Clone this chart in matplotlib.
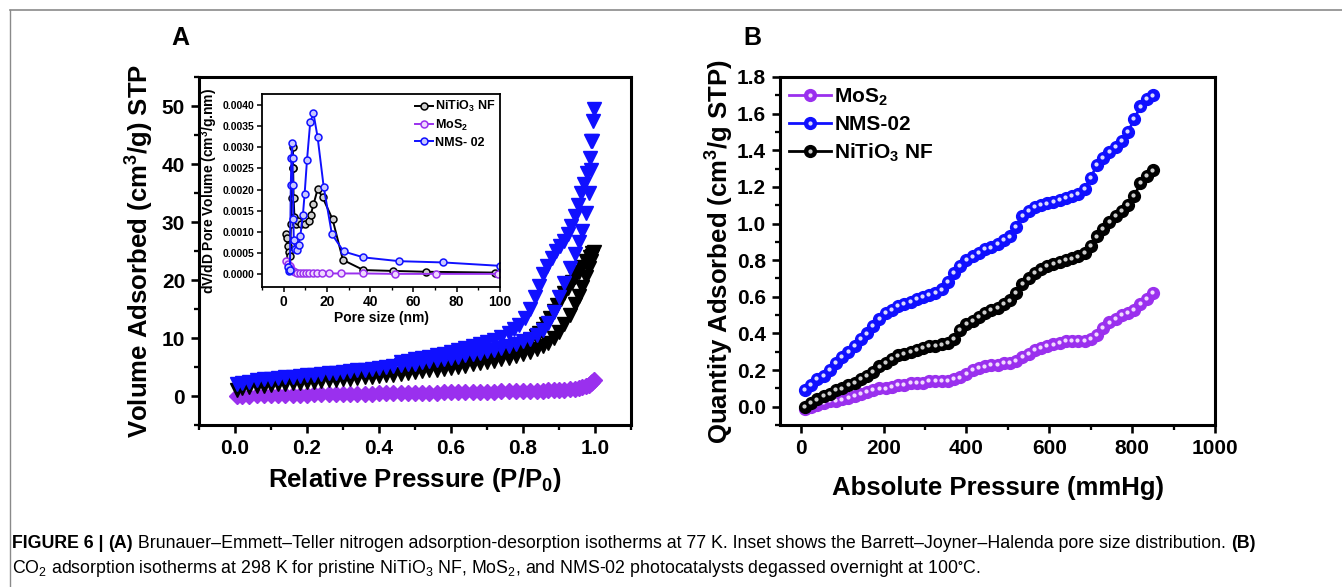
import matplotlib
matplotlib.use("Agg")
import matplotlib.pyplot as plt
import matplotlib.transforms as mtransforms
from matplotlib.lines import Line2D
from matplotlib.ticker import MultipleLocator

plt.rcParams['font.family'] = ['Liberation Sans', 'DejaVu Sans']
plt.rcParams['font.weight'] = 'bold'
plt.rcParams['mathtext.fontset'] = 'custom'
plt.rcParams['mathtext.rm'] = 'Liberation Sans'
plt.rcParams['mathtext.bf'] = 'Liberation Sans:bold'
plt.rcParams['mathtext.it'] = 'Liberation Sans:italic'
plt.rcParams['mathtext.default'] = 'regular'

# ---------------- Panel A: N2 isotherms ----------------
p_ads = [0.005, 0.02, 0.04, 0.06, 0.08, 0.10, 0.12, 0.14, 0.16, 0.18, 0.20, 0.22, 0.24, 0.26, 0.28,
         0.30, 0.32, 0.34, 0.36, 0.38, 0.40, 0.42, 0.44, 0.46, 0.48, 0.50, 0.52, 0.54, 0.56, 0.58,
         0.60, 0.62, 0.64, 0.66, 0.68, 0.70, 0.72, 0.74, 0.76, 0.78, 0.80, 0.82, 0.84, 0.855, 0.87,
         0.885, 0.90, 0.915, 0.93, 0.945, 0.955, 0.965, 0.975, 0.982, 0.988, 0.993, 0.997]
nms_ads = [2.0, 2.3, 2.5, 2.7, 2.85, 3.0, 3.1, 3.25, 3.35, 3.5, 3.6, 3.7, 3.8, 3.95, 4.05,
           4.2, 4.3, 4.45, 4.55, 4.7, 4.85, 5.0, 5.15, 5.3, 5.45, 5.6, 5.8, 5.95, 6.15, 6.35,
           6.55, 6.75, 7.0, 7.2, 7.45, 7.7, 8.0, 8.3, 8.6, 9.0, 9.4, 9.9, 10.6, 11.4, 12.6,
           14.5, 17.0, 19.5, 22.0, 24.5, 26.5, 28.5, 31.5, 35.0, 39.0, 44.0, 49.5]
nti_ads = [1.0, 1.3, 1.5, 1.65, 1.8, 1.9, 2.0, 2.1, 2.2, 2.3, 2.4, 2.5, 2.6, 2.7, 2.8,
           2.9, 3.0, 3.1, 3.2, 3.3, 3.45, 3.55, 3.7, 3.8, 3.95, 4.1, 4.25, 4.4, 4.55, 4.7,
           4.9, 5.05, 5.25, 5.45, 5.65, 5.85, 6.1, 6.35, 6.6, 6.9, 7.2, 7.6, 8.1, 8.6, 9.2,
           10.0, 11.0, 12.4, 14.0, 15.8, 17.2, 18.8, 20.5, 22.0, 23.2, 24.2, 24.8]
mos_ads = [0.0, 0.05, 0.08, 0.1, 0.12, 0.14, 0.16, 0.18, 0.2, 0.22, 0.24, 0.26, 0.28, 0.3, 0.32,
           0.34, 0.36, 0.38, 0.4, 0.42, 0.44, 0.46, 0.48, 0.5, 0.52, 0.54, 0.56, 0.58, 0.6, 0.62,
           0.64, 0.66, 0.68, 0.7, 0.72, 0.74, 0.76, 0.78, 0.8, 0.82, 0.85, 0.88, 0.91, 0.94, 0.97,
           1.0, 1.05, 1.1, 1.15, 1.25, 1.35, 1.5, 1.7, 1.95, 2.2, 2.5, 2.8]

p_des_nms = [0.995, 0.99, 0.985, 0.978, 0.97, 0.962, 0.953, 0.944, 0.934, 0.924, 0.913, 0.902,
             0.891, 0.88, 0.868, 0.856, 0.844, 0.832, 0.82, 0.805, 0.79, 0.775, 0.76, 0.74,
             0.72, 0.70, 0.68, 0.66, 0.64, 0.62, 0.60, 0.58, 0.56, 0.54, 0.52, 0.50, 0.48, 0.46]
nms_des = [47.5, 44.0, 41.0, 38.5, 36.5, 35.0, 33.0, 31.0, 29.3, 28.0, 26.8, 25.9,
           25.0, 23.8, 22.5, 21.0, 19.0, 17.0, 15.0, 13.5, 12.3, 11.5, 10.8, 10.2,
           9.7, 9.3, 8.9, 8.55, 8.2, 7.9, 7.6, 7.3, 7.05, 6.8, 6.55, 6.3, 6.05, 5.8]
p_des_nti = [0.993, 0.985, 0.975, 0.965, 0.955, 0.945, 0.935, 0.925, 0.915, 0.905, 0.895, 0.885,
             0.875, 0.865, 0.855, 0.845, 0.835, 0.82, 0.805, 0.79, 0.775, 0.76, 0.74, 0.72,
             0.70, 0.68, 0.66, 0.64, 0.62, 0.60, 0.58, 0.56]
nti_des = [24.6, 24.0, 23.2, 22.3, 21.4, 20.5, 19.6, 18.7, 17.8, 16.8, 15.7, 14.6,
           13.5, 12.5, 11.6, 10.9, 10.3, 9.6, 9.1, 8.7, 8.3, 8.0, 7.6, 7.25,
           6.9, 6.6, 6.3, 6.0, 5.75, 5.5, 5.25, 5.0]

# ---------------- Inset: BJH pore size distribution ----------------
d_nti = [1.2, 1.5, 1.9, 2.4, 2.9, 3.4, 3.8, 4.1, 4.2, 4.4, 4.6, 5.0, 5.6, 6.5, 8.0, 10.0,
         11.5, 12.5, 13.8, 15.7, 18.0, 22.6, 27.4, 36.9, 50.5, 66.0, 97.7]
v_nti = [0.00095, 0.00085, 0.00068, 0.00052, 0.00044, 0.0012, 0.0018, 0.0025, 0.0030, 0.0025,
         0.0018, 0.00135, 0.0012, 0.00125, 0.0012, 0.0012, 0.00125, 0.0014, 0.00165, 0.00201,
         0.00182, 0.0013, 0.00034, 0.0001, 0.00008, 0.00006, 0.00004]
d_mos = [1.2, 2.0, 2.8, 3.5, 4.3, 5.2, 6.3, 7.5, 8.8, 10.2, 11.8, 13.5, 15.5, 17.8, 21.0,
         26.5, 36.5, 51.5, 70.5, 99.0]
v_mos = [0.00031, 0.00025, 0.0002, 0.00012, 0.00008, 0.00005, 0.00004, 0.00003, 0.00003,
         0.00003, 0.00003, 0.00003, 0.00002, 0.00002, 0.00002, 0.00002, 0.00002, 0.00001,
         0.00001, 0.00001]
d_nms = [1.8, 2.3, 2.9, 3.3, 3.6, 3.9, 4.1, 4.3, 4.5, 4.7, 5.3, 6.0, 6.9, 7.7, 8.9, 9.7,
         10.8, 12.3, 13.8, 15.7, 18.5, 22.3, 27.7, 36.9, 53.4, 73.8, 100.0]
v_nms = [0.00018, 0.00008, 0.0001, 0.0021, 0.00275, 0.0031, 0.00275, 0.0021, 0.0013, 0.0008,
         0.0006, 0.00058, 0.0007, 0.0009, 0.0014, 0.0019, 0.0027, 0.0036, 0.0038, 0.00324,
         0.00207, 0.00095, 0.00054, 0.0004, 0.00031, 0.00028, 0.0002]

# ---------------- Panel B: CO2 isotherms ----------------
pressure = [10, 25, 40, 55, 70, 85, 100, 115, 130, 145, 160, 175, 190, 205, 220, 235, 250, 265,
            280, 295, 310, 325, 340, 355, 370, 385, 400, 415, 430, 445, 460, 475, 490, 505, 520,
            535, 550, 565, 580, 595, 610, 625, 640, 655, 670, 685, 700, 715, 730, 745, 760, 775,
            790, 805, 820, 835, 850]
co2_nms = [0.09, 0.12, 0.15, 0.17, 0.20, 0.24, 0.27, 0.30, 0.33, 0.37, 0.40, 0.44, 0.48, 0.51,
           0.53, 0.55, 0.56, 0.57, 0.59, 0.60, 0.61, 0.62, 0.64, 0.68, 0.73, 0.77, 0.80, 0.82,
           0.84, 0.86, 0.87, 0.89, 0.91, 0.93, 0.98, 1.04, 1.07, 1.09, 1.10, 1.11, 1.12, 1.13,
           1.14, 1.15, 1.16, 1.19, 1.25, 1.32, 1.36, 1.39, 1.42, 1.45, 1.50, 1.57, 1.64, 1.68, 1.70]
co2_nti = [0.00, 0.02, 0.04, 0.06, 0.07, 0.09, 0.10, 0.12, 0.13, 0.15, 0.17, 0.19, 0.22, 0.24,
           0.26, 0.28, 0.29, 0.30, 0.31, 0.32, 0.33, 0.33, 0.34, 0.35, 0.37, 0.42, 0.45, 0.47,
           0.49, 0.51, 0.53, 0.54, 0.56, 0.58, 0.62, 0.67, 0.70, 0.73, 0.75, 0.77, 0.78, 0.79,
           0.80, 0.81, 0.82, 0.84, 0.88, 0.93, 0.97, 1.01, 1.04, 1.07, 1.10, 1.15, 1.22, 1.26, 1.29]
co2_mos = [-0.01, 0.00, 0.01, 0.02, 0.03, 0.03, 0.04, 0.05, 0.06, 0.07, 0.08, 0.09, 0.10, 0.10,
           0.11, 0.12, 0.12, 0.13, 0.13, 0.13, 0.14, 0.14, 0.14, 0.14, 0.15, 0.16, 0.18, 0.20,
           0.21, 0.22, 0.23, 0.23, 0.24, 0.24, 0.25, 0.27, 0.29, 0.31, 0.32, 0.33, 0.34, 0.35,
           0.36, 0.36, 0.36, 0.36, 0.37, 0.39, 0.43, 0.46, 0.48, 0.50, 0.51, 0.53, 0.56, 0.59, 0.62]

BLUE = '#1010ff'
BLACK = '#000000'
PURPLE = '#9a30ee'

W, H = 1342, 587
fig = plt.figure(figsize=(W / 100, H / 100), dpi=100)

# frame lines of the figure page
fig.add_artist(Line2D([10 / W, 1.0], [1 - 10 / H, 1 - 10 / H], transform=fig.transFigure,
                      color='#8a8a8a', lw=1.2))
fig.add_artist(Line2D([10 / W, 10 / W], [0, 1 - 10 / H], transform=fig.transFigure,
                      color='#8a8a8a', lw=1.0))


def style_axes(ax, lw=2.2, major_len=6, minor_len=3.5, xsize=15, ysize=15, pad=4):
    for s in ax.spines.values():
        s.set_linewidth(lw)
    ax.tick_params(which='major', direction='out', length=major_len, width=lw * 0.85, pad=pad)
    ax.tick_params(which='minor', direction='out', length=minor_len, width=lw * 0.75)
    ax.tick_params(axis='x', labelsize=xsize)
    ax.tick_params(axis='y', labelsize=ysize)


# ---------- Panel A ----------
axA = fig.add_axes([199 / W, 1 - 425 / H, 432 / W, 348 / H])
axA.plot(p_ads, mos_ads, ls='none', marker='D', ms=8, color=PURPLE, mec=PURPLE)
axA.plot(p_ads, nti_ads, ls='none', marker='v', ms=10.5, color=BLACK)
axA.plot(p_des_nti, nti_des, ls='none', marker='v', ms=10.5, color=BLACK)
axA.plot(p_ads, nms_ads, ls='none', marker='v', ms=10.5, color=BLUE)
axA.plot(p_des_nms, nms_des, ls='none', marker='v', ms=10.5, color=BLUE)
axA.set_xlim(-0.1, 1.1)
axA.set_ylim(-5, 55)
axA.set_xticks([0.0, 0.2, 0.4, 0.6, 0.8, 1.0])
axA.set_xticklabels(['0.0', '0.2', '0.4', '0.6', '0.8', '1.0'])
axA.set_yticks([0, 10, 20, 30, 40, 50])
axA.xaxis.set_minor_locator(MultipleLocator(0.1))
axA.yaxis.set_minor_locator(MultipleLocator(5))
style_axes(axA)
axA.set_xlabel(r'Relative Pressure (P/P$_{\mathbf{0}}$)', fontsize=18.5, fontweight='bold',
               labelpad=6)
axA.set_ylabel(r'Volume Adsorbed (cm$^{\mathbf{3}}$/g) STP', fontsize=18.5, fontweight='bold',
               labelpad=4)
fig.text(180 / W, 1 - 38 / H, 'A', fontsize=18, fontweight='bold', ha='center', va='center')

# ---------- Inset ----------
axI = fig.add_axes([262 / W, 1 - 287 / H, 238 / W, 193 / H])
axI.plot(d_nti, v_nti, color=BLACK, lw=1.4, marker='o', ms=5, mfc='#cfcfcf', mec=BLACK,
         mew=1.1, label=r'NiTiO$_{\mathbf{3}}$ NF')
axI.plot(d_mos, v_mos, color=PURPLE, lw=1.4, marker='o', ms=5, mfc='#efd8ff', mec=PURPLE,
         mew=1.1, label=r'MoS$_{\mathbf{2}}$')
axI.plot(d_nms, v_nms, color=BLUE, lw=1.4, marker='o', ms=5, mfc='#c8c8ff', mec=BLUE,
         mew=1.1, label='NMS- 02')
axI.set_xlim(-10, 100)
axI.set_ylim(-0.0003, 0.00426)
axI.set_xticks([0, 20, 40, 60, 80, 100])
axI.set_yticks([0.0, 0.0005, 0.0010, 0.0015, 0.0020, 0.0025, 0.0030, 0.0035, 0.0040])
axI.set_yticklabels(['0.0000', '0.0005', '0.0010', '0.0015', '0.0020', '0.0025', '0.0030',
                     '0.0035', '0.0040'])
axI.xaxis.set_minor_locator(MultipleLocator(10))
style_axes(axI, lw=1.3, major_len=3.5, minor_len=2, xsize=10, ysize=7.5, pad=2)
axI.set_xlabel('Pore size (nm)', fontsize=10, fontweight='bold', labelpad=2)
axI.set_ylabel(r'dV/dD Pore Volume (cm$^{\mathbf{3}}$/g.nm)', fontsize=10,
               fontweight='bold', labelpad=2)
axI.legend(loc='upper right', frameon=False, handlelength=1.4, handletextpad=0.15,
           labelspacing=0.3, borderaxespad=0.2, borderpad=0.2,
           prop={'weight': 'bold', 'size': 9})

# ---------- Panel B ----------
axB = fig.add_axes([780 / W, 1 - 425 / H, 435 / W, 348 / H])
hl = mtransforms.offset_copy(axB.transData, fig=fig, x=-0.8, y=0.8, units='dots')
handles = []
for y, c, hc, lab in [(co2_mos, PURPLE, '#f3dcff', r'MoS$_{\mathbf{2}}$'),
                      (co2_nms, BLUE, '#dcdcff', 'NMS-02'),
                      (co2_nti, BLACK, '#d0d0d0', r'NiTiO$_{\mathbf{3}}$ NF')]:
    l1, = axB.plot(pressure, y, color=c, lw=2.0, marker='o', ms=8.5, mec=c, mfc=c)
    l2, = axB.plot(pressure, y, ls='none', marker='o', ms=2.0, color=hc, mec=hc,
                   transform=hl)
    handles.append(((l1, l2), lab))
axB.set_xlim(-50, 1000)
axB.set_ylim(-0.1, 1.8)
axB.set_xticks([0, 200, 400, 600, 800, 1000])
axB.set_yticks([0.0, 0.2, 0.4, 0.6, 0.8, 1.0, 1.2, 1.4, 1.6, 1.8])
axB.set_yticklabels(['0.0', '0.2', '0.4', '0.6', '0.8', '1.0', '1.2', '1.4', '1.6', '1.8'])
axB.xaxis.set_minor_locator(MultipleLocator(100))
axB.yaxis.set_minor_locator(MultipleLocator(0.1))
style_axes(axB)
axB.set_xlabel('Absolute Pressure (mmHg)', fontsize=18.5, fontweight='bold', labelpad=13)
axB.set_ylabel(r'Quantity Adsorbed (cm$^{\mathbf{3}}$/g STP)', fontsize=18.5,
               fontweight='bold', labelpad=1)
axB.legend([h for h, _ in handles], [l for _, l in handles], loc='upper left', frameon=False,
           handlelength=2.0, handletextpad=0.15, labelspacing=0.35, borderaxespad=0.15,
           borderpad=0.3, numpoints=1, prop={'weight': 'bold', 'size': 15})
fig.text(752 / W, 1 - 38 / H, 'B', fontsize=18, fontweight='bold', ha='center', va='center')

# ---------- Caption ----------
renderer = fig.canvas.get_renderer()


def write_runs(x_px, y_px, runs, size=12.8):
    x = x_px
    for txt, weight in runs:
        t = fig.text(x / W, 1 - y_px / H, txt, fontsize=size, fontweight=weight,
                     ha='left', va='baseline')
        bb = t.get_window_extent(renderer=renderer)
        x += bb.width


write_runs(12, 548, [('FIGURE 6 | ', 'bold'), ('(A)', 'bold'),
                     (' Brunauer\u2013Emmett\u2013Teller nitrogen adsorption-desorption isotherms '
                      'at 77 K. Inset shows the Barrett\u2013Joyner\u2013Halenda pore size '
                      'distribution. ', 'normal'),
                     ('(B)', 'bold')])
write_runs(12, 573, [(r'CO$_2$ adsorption isotherms at 298 K for pristine NiTiO$_3$ NF, MoS$_2$,'
                      r' and NMS-02 photocatalysts degassed overnight at 100$^{\circ}$C.',
                      'normal')])

fig.savefig('out.png', dpi=100)
